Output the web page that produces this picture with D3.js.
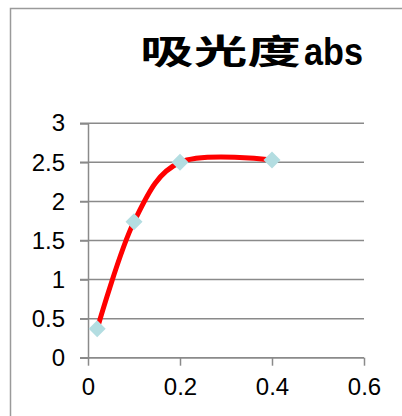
<!DOCTYPE html>
<html>
<head>
<meta charset="utf-8">
<script src="https://cdn.jsdelivr.net/npm/d3@7"></script>
<style>
  html, body { margin: 0; padding: 0; background: #fff; }
  svg { display: block; }
</style>
</head>
<body>
<svg id="chart" width="402" height="416"></svg>
<script>
// Absorbance readings
const concentration = [0.02, 0.1, 0.2, 0.4];
const absorbance = [0.37, 1.74, 2.5, 2.53];
const xTicks = [0, 0.2, 0.4, 0.6];
const yTicks = [0, 0.5, 1, 1.5, 2, 2.5, 3];
const titleMain = "吸光度";
const titleUnit = "abs";

const svg = d3.select("#chart");
const gridColor = "#8a8a8a";
const font = "'Liberation Sans', Arial, sans-serif";

// chart area frame
svg.append("rect")
  .attr("x", 10.5).attr("y", 8.5)
  .attr("width", 600).attr("height", 600)
  .attr("fill", "none")
  .attr("stroke", "#9a9a9a")
  .attr("stroke-width", 1.5);

const x = d3.scaleLinear().domain([0, 0.6]).range([88, 364]);
const y = d3.scaleLinear().domain([0, 3]).range([357.7, 123.3]);

// horizontal gridlines
svg.append("g")
  .selectAll("line")
  .data(yTicks)
  .join("line")
  .attr("x1", x(0) - 8).attr("x2", x(0.6))
  .attr("y1", d => y(d)).attr("y2", d => y(d))
  .attr("stroke", gridColor)
  .attr("stroke-width", 1.5);

// y axis
const yAxis = svg.append("g")
  .attr("transform", `translate(${x(0)},0)`)
  .call(d3.axisLeft(y).tickValues(yTicks).tickSize(8).tickPadding(15)
    .tickFormat(d3.format("")));
yAxis.select(".domain").attr("stroke", gridColor).attr("stroke-width", 1.5);
yAxis.selectAll(".tick line").attr("stroke", gridColor).attr("stroke-width", 1.5);
yAxis.selectAll("text")
  .attr("font-family", font).attr("font-size", 24).attr("fill", "#000");

// x axis
const xAxis = svg.append("g")
  .attr("transform", `translate(0,${y(0)})`)
  .call(d3.axisBottom(x).tickValues(xTicks).tickSize(8).tickSizeOuter(8).tickPadding(12)
    .tickFormat(d3.format("")));
xAxis.select(".domain").attr("stroke", gridColor).attr("stroke-width", 1.5)
  .attr("d", `M${x(0)},0H${x(0.6)}`);
xAxis.selectAll(".tick line").attr("stroke", gridColor).attr("stroke-width", 1.5);
xAxis.selectAll("text")
  .attr("font-family", font).attr("font-size", 24).attr("fill", "#000");

// smoothed curve through the readings
const pts = concentration.map((c, i) => [c, absorbance[i]]);
const line = d3.line()
  .x(d => x(d[0]))
  .y(d => y(d[1]))
  .curve(d3.curveCardinal.tension(0));
svg.append("path")
  .datum(pts)
  .attr("d", line)
  .attr("fill", "none")
  .attr("stroke", "#ff0000")
  .attr("stroke-width", 5);

// diamond markers
svg.append("g")
  .selectAll("path")
  .data(pts)
  .join("path")
  .attr("transform", d => `translate(${x(d[0])},${y(d[1])})`)
  .attr("d", "M0,-8.5L8.5,0L0,8.5L-8.5,0Z")
  .attr("fill", "#b3dde1");

// title: CJK part and unit part
svg.append("text")
  .attr("x", 140).attr("y", 64)
  .attr("font-family", "'Noto Sans CJK SC', sans-serif")
  .attr("font-weight", "bold")
  .attr("font-size", 34)
  .attr("textLength", 161)
  .attr("lengthAdjust", "spacingAndGlyphs")
  .attr("fill", "#000")
  .text(titleMain);
svg.append("text")
  .attr("x", 304).attr("y", 65)
  .attr("font-family", font)
  .attr("font-weight", "bold")
  .attr("font-size", 39)
  .attr("textLength", 59)
  .attr("lengthAdjust", "spacingAndGlyphs")
  .attr("fill", "#000")
  .text(titleUnit);
</script>
</body>
</html>
